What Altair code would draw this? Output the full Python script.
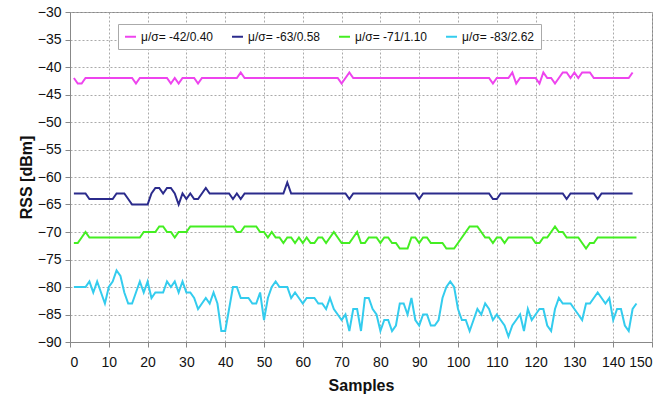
import altair as alt
import pandas as pd

# RSS traces (dBm) for four links, samples 1..146
samples = list(range(1, 147))

rss_a = ([-42, -43, -43] + [-42] * 13 + [-43] + [-42] * 8 + [-43, -42, -43]
         + [-42] * 4 + [-43] + [-42] * 10 + [-41] + [-42] * 25
         + [-43, -42, -41] + [-42] * 36 + [-43, -42, -42, -42, -42, -41, -43]
         + [-42] * 5 + [-43, -41, -42, -42, -43, -42, -41, -41, -42, -41, -42,
                        -41, -41, -41] + [-42] * 10 + [-41])

rss_b = ([-63] * 4 + [-64] * 7 + [-63] * 3 + [-64] + [-65] * 5
         + [-63, -62, -62, -63, -62, -62, -63, -65, -63, -64, -63, -64, -64,
            -63, -62] + [-63] * 6 + [-64, -63, -64] + [-63] * 11 + [-61]
         + [-63] * 15 + [-64] + [-63] * 17 + [-64] + [-63] * 18 + [-64, -64]
         + [-63] * 17 + [-64] + [-63] * 7 + [-64] + [-63] * 9)

rss_c = ([-72, -72, -71, -70] + [-71] * 14 + [-70] * 4
         + [-69, -69, -70, -70, -71, -70, -70, -70] + [-69] * 12
         + [-70, -70, -69, -69, -69, -69, -70, -70, -71, -70, -71, -71, -72,
            -71, -71, -72, -71, -72, -71, -72, -72, -71, -71, -72, -71, -70,
            -71, -72, -72, -72, -71, -70, -72, -72, -71, -71, -71, -72, -71,
            -71, -72, -72, -73, -73, -73, -71, -71, -72, -71, -71, -72, -72,
            -72, -72, -73, -73, -73, -72, -71, -70, -69, -69, -69, -70, -71,
            -71, -72, -71, -71, -72, -71, -71, -71, -71, -71, -71, -71, -72,
            -72, -71, -71, -70, -69, -70, -70, -71, -71, -71, -71, -72, -73,
            -72, -72, -71] + [-71] * 10)

rss_d = [-80, -80, -80, -80, -79, -81, -79, -81, -83, -80, -79, -77, -78, -81,
         -83, -83, -81, -79, -81, -79, -82, -81, -81, -81, -79, -80, -79, -81,
         -79, -81, -81, -82, -84, -83, -82, -83, -81, -83, -88, -88, -84, -80,
         -80, -82, -82, -82, -83, -83, -81, -86, -82, -80, -79, -80, -80, -80,
         -82, -81, -82, -83, -82, -82, -82, -83, -83, -84, -82, -84, -85, -86,
         -85, -88, -84, -84, -88, -82, -82, -84, -85, -88, -86, -86, -88, -87,
         -83, -83, -85, -82, -86, -87, -85, -85, -87, -87, -86, -82, -80, -79,
         -80, -84, -86, -86, -88, -86, -84, -85, -83, -84, -86, -85, -86, -87,
         -89, -87, -86, -85, -88, -84, -86, -85, -84, -84, -87, -88, -84, -82,
         -83, -83, -83, -84, -85, -86, -83, -83, -82, -81, -82, -83, -82, -86,
         -84, -84, -87, -88, -84, -83]

labels = ["\u03bc/\u03c3= -42/0.40", "\u03bc/\u03c3= -63/0.58",
          "\u03bc/\u03c3= -71/1.10", "\u03bc/\u03c3= -83/2.62"]
colors = ["#ee44ee", "#2b2b8c", "#44ee22", "#33ccee"]
x_ticks = list(range(0, 151, 10))
y_ticks = list(range(-90, -29, 5))

frames = []
for lab, vals in zip(labels, [rss_a, rss_b, rss_c, rss_d]):
    n = min(len(samples), len(vals))
    frames.append(pd.DataFrame({"Samples": samples[:n], "RSS": vals[:n],
                                "series": [lab] * n}))
df = pd.concat(frames, ignore_index=True)

font = "Liberation Sans"

chart = alt.Chart(df).mark_line(strokeWidth=2).encode(
    x=alt.X("Samples:Q", scale=alt.Scale(domain=[0, 150], nice=False),
            axis=alt.Axis(values=x_ticks, title="Samples", grid=True)),
    y=alt.Y("RSS:Q", scale=alt.Scale(domain=[-90, -30], nice=False, zero=False),
            axis=alt.Axis(values=y_ticks, title="RSS [dBm]", grid=True)),
    color=alt.Color("series:N", sort=labels,
                    scale=alt.Scale(domain=labels, range=colors),
                    legend=alt.Legend(orient="none", direction="horizontal",
                                      legendX=48, legendY=12, title=None,
                                      symbolType="stroke", symbolSize=120,
                                      symbolStrokeWidth=2, labelFontSize=12,
                                      labelFont=font, labelColor="#111",
                                      columnPadding=14, padding=6,
                                      strokeColor="#aaaaaa", fillColor="white",
                                      columns=4)),
    detail="series:N",
).properties(
    width=582, height=330,
    padding={"left": 70, "top": 12, "right": 18, "bottom": 62},
    autosize=alt.AutoSizeParams(type="none"),
    background="white",
).configure_view(
    stroke="#888888", strokeWidth=1
).configure_axis(
    labelFont=font, titleFont=font, labelFontSize=14, titleFontSize=16,
    titleFontWeight="bold", labelColor="#111", titleColor="#111",
    gridColor="#aaaaaa", gridDash=[2, 2], gridWidth=1,
    domainColor="#888888", tickColor="#888888", tickSize=5,
).configure_axisY(
    titlePadding=3, labelPadding=4
).configure_axisX(
    titlePadding=8, labelPadding=8
)

chart.save("out.html", embed_options={"renderer": "svg", "actions": False})
